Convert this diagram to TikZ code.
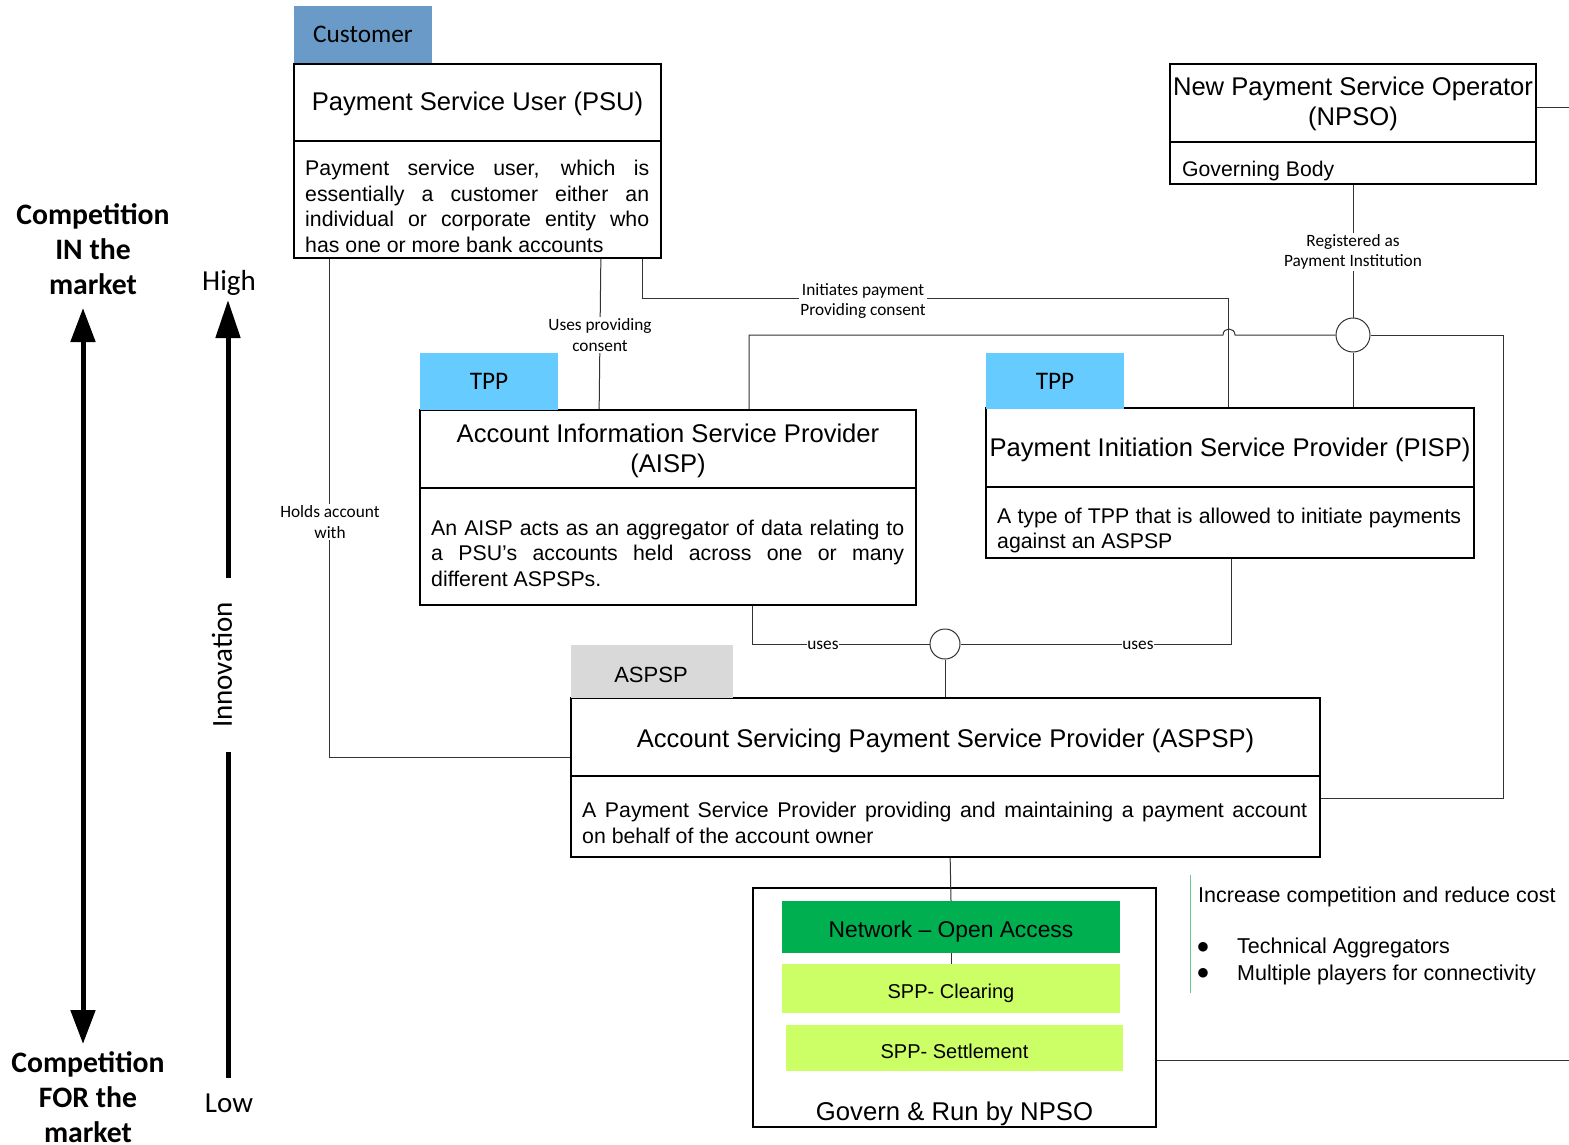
\documentclass[tikz,border=0pt]{standalone}
\usepackage{fontspec}
\setmainfont{Liberation Sans}
\newfontfamily\calib{Carlito}
\newfontfamily\symfont{DejaVu Sans}
\usetikzlibrary{arrows.meta,calc}

\definecolor{custblue}{HTML}{6A9BC8}
\definecolor{tppblue}{HTML}{66CCFF}
\definecolor{tabgray}{HTML}{D9D9D9}
\definecolor{netgreen}{HTML}{00B050}
\definecolor{spplime}{HTML}{CCFF66}
\definecolor{barline}{HTML}{66CC99}

\newcommand{\fz}[2]{\fontsize{#1pt}{#2pt}\selectfont}
\newcommand{\jline}[2]{\makebox[#1][s]{#2}}

\begin{document}
\begin{tikzpicture}[x=1pt,y=-1pt,
  box/.style={draw=black,line width=1.7pt,inner sep=0pt},
  tab/.style={inner sep=0pt,font=\calib\fz{25.3}{30}},
  conn/.style={draw=black!80,line width=1pt},
  divider/.style={draw=black,line width=1.7pt},
  lab/.style={fill=white,inner sep=1.5pt,font=\calib\fz{17.3}{20.5},align=center},
  title/.style={inner sep=0pt,font=\fz{25.6}{30},align=center},
  desc/.style={inner sep=0pt,font=\fz{21.3}{25.6},align=left},
  note/.style={inner sep=0pt,font=\fz{21.5}{25}},
  bulletmark/.style={inner sep=0pt,font=\symfont\fz{12.5}{13}},
  layer/.style={inner sep=0pt},
  hub/.style={circle,draw=black!80,line width=1pt,fill=white,inner sep=0pt},
  side/.style={font=\calib\bfseries\fz{29.7}{35},align=center,inner sep=0pt},
  scale label/.style={font=\calib\fz{29}{34},inner sep=0pt}]
\useasboundingbox (0,0) rectangle (1569,1145);

% ---------- boxes ----------
\node[box,minimum width=367pt,minimum height=194pt] (psu) at (477.5,161) {};
\node[tab,fill=custblue,minimum width=138pt,minimum height=57pt] (tabcust) at (363,34.5) {Customer};
\draw[divider] (psu.west |- 0,141) -- (psu.east |- 0,141);
\node[title] (psutitle) at (477.5,104) {Payment Service User (PSU)};
\node[desc,anchor=west] (psudesc) at (305,206.5) {%
  \jline{344pt}{Payment service user, which is}\\
  \jline{344pt}{essentially a customer either an}\\
  \jline{344pt}{individual or corporate entity who}\\
  has one or more bank accounts};

\node[box,minimum width=366pt,minimum height=120pt] (npso) at (1353,124) {};
\draw[divider] (npso.west |- 0,142) -- (npso.east |- 0,142);
\node[title] (npsotitle) at (1353,104) {New Payment Service Operator\\(NPSO)};
\node[note,font=\fz{21.2}{25},anchor=west] (npsodesc) at (1182,171) {Governing Body};

\node[box,minimum width=496pt,minimum height=195pt] (aisp) at (668,507.5) {};
\node[tab,fill=tppblue,minimum width=138pt,minimum height=57pt] (tabaisp) at (489,381.5) {TPP};
\draw[divider] (aisp.west |- 0,488) -- (aisp.east |- 0,488);
\node[title] (aisptitle) at (668,451) {Account Information Service Provider\\(AISP)};
\node[desc,anchor=west] (aispdesc) at (431,553) {%
  \jline{473pt}{An AISP acts as an aggregator of data relating to}\\
  \jline{473pt}{a PSU’s accounts held across one or many}\\
  different ASPSPs.};

\node[box,minimum width=488pt,minimum height=150pt] (pisp) at (1230,483) {};
\node[tab,fill=tppblue,minimum width=138pt,minimum height=56pt] (tabpisp) at (1055,381) {TPP};
\draw[divider] (pisp.west |- 0,487) -- (pisp.east |- 0,487);
\node[title] (pisptitle) at (1230,450) {Payment Initiation Service Provider (PISP)};
\node[desc,anchor=west] (pispdesc) at (997,530.5) {%
  \jline{464pt}{A type of TPP that is allowed to initiate payments}\\
  against an ASPSP};

\node[box,minimum width=749pt,minimum height=159pt] (aspsp) at (945.5,777.5) {};
\node[tab,fill=tabgray,minimum width=162pt,minimum height=53pt] (tabaspsp) at (652,671.5) {};
\node[inner sep=0pt,font=\fz{22}{26}] (tabaspsptext) at (651,674.5) {ASPSP};
\draw[divider] (aspsp.west |- 0,776) -- (aspsp.east |- 0,776);
\node[title] (aspsptitle) at (945.5,740.5) {Account Servicing Payment Service Provider (ASPSP)};
\node[desc,anchor=west] (aspspdesc) at (582,823) {%
  \jline{725pt}{A Payment Service Provider providing and maintaining a payment account}\\
  on behalf of the account owner};

% ---------- payment system stack ----------
\node[box,minimum width=403pt,minimum height=239pt] (gov) at (954.5,1007.5) {};
\node[layer,fill=netgreen,minimum width=338pt,minimum height=52pt] (net) at (951,927) {};
\node[inner sep=0pt,font=\fz{22.8}{26}] (nettext) at (951,932) {Network -- Open Access};
\node[layer,fill=spplime,minimum width=338pt,minimum height=49pt] (clr) at (951,988.5) {};
\node[inner sep=0pt,font=\fz{20}{24}] (clrtext) at (951,993.5) {SPP- Clearing};
\node[layer,fill=spplime,minimum width=337pt,minimum height=46pt] (stl) at (954.5,1048) {};
\node[inner sep=0pt,font=\fz{20}{24}] (stltext) at (954.5,1051) {SPP- Settlement};
\node[inner sep=0pt,font=\fz{25.7}{30}] (govlabel) at (954.5,1114) {Govern \& Run by NPSO};

% ---------- hubs ----------
\node[hub,minimum size=34pt] (hubtop) at (1353,335) {};
\node[hub,minimum size=30pt] (hubbot) at (945,644) {};

% ---------- connectors ----------
\draw[conn] (npso.south) -- (hubtop.north);
\node[lab] (regl) at (1353,252) {Registered as\\Payment Institution};

\draw[conn] (hubtop.south) -- (hubtop.south |- pisp.north);

\draw[conn] ($(psu.south east)+(-19,0)$) |- ($(pisp.north west)+(243,-109)$)
  -- ($(pisp.north west)+(243,0)$);
\node[lab] (initl) at (863,301) {Initiates payment\\Providing consent};

\draw[conn] (hubtop.west) -- (1235,335) .. controls (1235,327) and (1223,327) .. (1223,335)
  -| ($(aisp.north west)+(330,0)$);

\draw[conn] (hubtop.east) -| ($(aspsp.south east)+(183,-59)$) -- ($(aspsp.south east)+(0,-59)$);

\draw[conn] ($(psu.south east)+(-61,0)$) -- ($(aisp.north west)+(180,0)$);
\node[lab] (usesl) at (600,335) {Uses providing\\consent};

\draw[conn] ($(psu.south west)+(36,0)$) |- ($(aspsp.north west)+(0,60)$);
\node[lab] (holdl) at (330,522) {Holds account\\with};

\draw[conn] ($(aisp.south west)+(333,0)$) |- (hubbot.west);
\node[lab,inner sep=0.5pt,anchor=base] (usesa) at (823,649) {uses};
\draw[conn] ($(pisp.south west)+(246,0)$) |- (hubbot.east);
\node[lab,inner sep=0.5pt,anchor=base] (usesb) at (1138,649) {uses};
\draw[conn] (hubbot.south) -- (hubbot.south |- aspsp.north);

\draw[conn] ($(aspsp.south west)+(380,0)$) -- (net.north);
\draw[conn] (net.south) -- (clr.north);

% lines running off to the right
\coordinate (npsoout) at (1569,108);
\draw[conn] (npso.east |- npsoout) -- (npsoout);
\coordinate (govout) at (1569,1060);
\draw[conn] (gov.east |- govout) -- (govout);

% ---------- open access notes ----------
\coordinate (bartop) at (1190,875);
\coordinate (barbot) at (1190,993);
\draw[barline,line width=1pt] (bartop) -- (barbot);
\draw[barline,line width=1pt] ($(net.east)+(0,7)$) -- ($(net.east)+(0,7)$ -| bartop);
\node[note,anchor=west] (note) at (1198,897) {Increase competition and reduce cost};
\node[bulletmark] (b1) at (1203,947) {●};
\node[bulletmark] (b2) at (1203,973) {●};
\node[note,anchor=west] (n1) at (1237,948) {Technical Aggregators};
\node[note,anchor=west] (n2) at (1237,974.5) {Multiple players for connectivity};

% ---------- competition scale ----------
\node[side] (inmkt) at (93,249) {Competition\\IN the\\market};
\node[side] (formkt) at (88,1097.5) {Competition\\FOR the\\market};
\coordinate (ctop) at (83,308);
\coordinate (cbot) at (83,1044);
\draw[line width=5pt,{Triangle[width=24pt,length=34pt]}-{Triangle[width=24pt,length=34pt]}] (ctop) -- (cbot);

\node[scale label] (high) at (229,283) {High};
\node[scale label] (low) at (229,1103) {Low};
\node[scale label,rotate=90] (innov) at (222,665) {Innovation};
\coordinate (itop) at (228,300);
\coordinate (imid) at (228,578);
\coordinate (ilow) at (228,752);
\coordinate (ibot) at (228,1078);
\draw[line width=5pt,-{Triangle[width=24pt,length=38pt]}] (imid) -- (itop);
\draw[line width=5pt] (ilow) -- (ibot);
\end{tikzpicture}
\end{document}
